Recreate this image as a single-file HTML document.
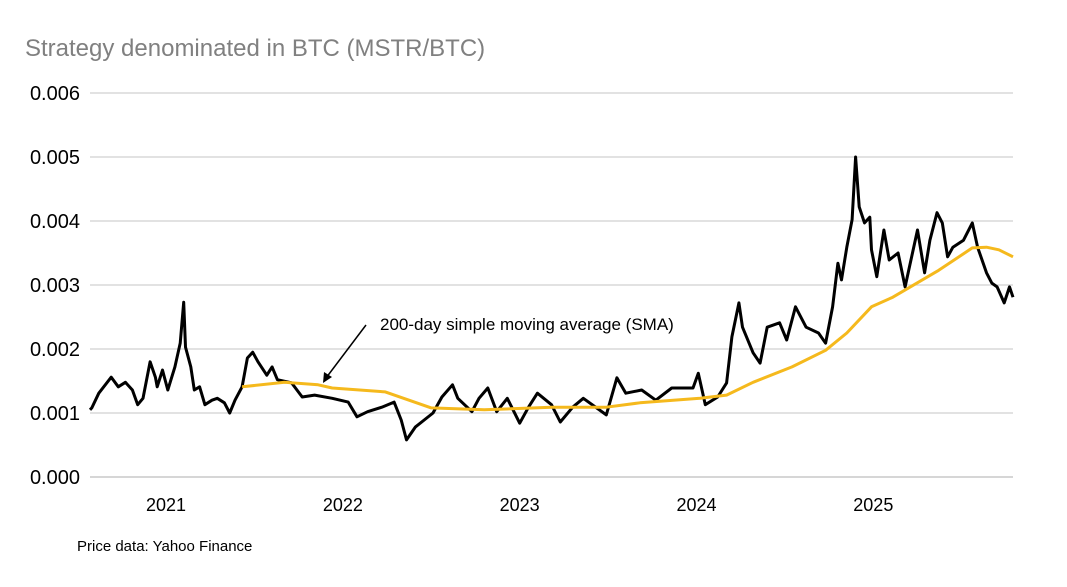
<!DOCTYPE html>
<html><head><meta charset="utf-8"><style>
body{margin:0;background:#fff;width:1067px;height:582px;overflow:hidden;font-family:"Liberation Sans",sans-serif}
</style></head><body>
<svg width="1067" height="582" font-family="Liberation Sans, sans-serif">
<text x="25" y="56" font-size="24" fill="#808080">Strategy denominated in BTC (MSTR/BTC)</text>
<g id="grid"></g><g id="yt"></g><g id="xt"></g>
<path id="price" fill="none" stroke="#000" stroke-width="3" stroke-linejoin="round"/>
<path id="sma" fill="none" stroke="#f5b91d" stroke-width="3" stroke-linejoin="round"/>
<text x="380" y="330" font-size="17" fill="#000">200-day simple moving average (SMA)</text>
<line x1="366" y1="325" x2="326" y2="378" stroke="#000" stroke-width="1.5"/>
<path d="M323,383 L324,372 L332,377 Z" fill="#000"/>
<text x="77" y="551" font-size="15" fill="#000">Price data: Yahoo Finance</text>
</svg>
<script>
const yTicks=[0,1,2,3,4,5,6];
const yLabels=["0.000","0.001","0.002","0.003","0.004","0.005","0.006"];
const years=[2021,2022,2023,2024,2025];
const priceT=[2020.57,2020.58,2020.62,2020.69,2020.73,2020.77,2020.81,2020.84,2020.87,2020.91,2020.94,2020.95,2020.98,2021.01,2021.05,2021.08,2021.10,2021.11,2021.14,2021.16,2021.19,2021.22,2021.26,2021.29,2021.33,2021.36,2021.39,2021.43,2021.46,2021.49,2021.52,2021.57,2021.60,2021.63,2021.71,2021.77,2021.84,2021.94,2022.03,2022.08,2022.14,2022.22,2022.29,2022.33,2022.36,2022.41,2022.46,2022.51,2022.56,2022.62,2022.65,2022.73,2022.77,2022.82,2022.87,2022.93,2023.00,2023.05,2023.10,2023.18,2023.23,2023.30,2023.36,2023.49,2023.55,2023.60,2023.69,2023.77,2023.86,2023.98,2024.01,2024.05,2024.12,2024.17,2024.20,2024.24,2024.26,2024.32,2024.36,2024.40,2024.47,2024.51,2024.56,2024.62,2024.69,2024.73,2024.77,2024.80,2024.82,2024.85,2024.88,2024.90,2024.92,2024.95,2024.98,2024.99,2025.02,2025.06,2025.09,2025.14,2025.18,2025.20,2025.25,2025.29,2025.32,2025.36,2025.39,2025.42,2025.45,2025.51,2025.56,2025.59,2025.64,2025.67,2025.70,2025.74,2025.77,2025.79];
const priceV=[1.05,1.08,1.31,1.56,1.41,1.48,1.36,1.13,1.23,1.80,1.56,1.41,1.67,1.36,1.72,2.09,2.73,2.03,1.72,1.36,1.41,1.13,1.20,1.23,1.16,1.00,1.20,1.41,1.86,1.95,1.80,1.59,1.72,1.52,1.47,1.25,1.28,1.23,1.17,0.94,1.02,1.09,1.17,0.89,0.58,0.78,0.89,1.00,1.25,1.44,1.23,1.02,1.23,1.39,1.02,1.23,0.84,1.09,1.31,1.13,0.86,1.09,1.23,0.97,1.55,1.31,1.36,1.20,1.39,1.39,1.62,1.13,1.25,1.47,2.19,2.72,2.34,1.94,1.78,2.34,2.41,2.14,2.66,2.34,2.25,2.09,2.66,3.34,3.08,3.59,4.02,5.00,4.22,3.97,4.06,3.55,3.13,3.86,3.39,3.50,2.97,3.23,3.86,3.19,3.70,4.13,3.97,3.44,3.59,3.70,3.97,3.59,3.19,3.03,2.97,2.72,2.97,2.81];
const smaT=[2021.43,2021.67,2021.86,2021.94,2022.24,2022.50,2022.80,2023.18,2023.49,2023.68,2024.02,2024.17,2024.32,2024.54,2024.73,2024.85,2024.99,2025.11,2025.37,2025.56,2025.64,2025.71,2025.79];
const smaV=[1.41,1.48,1.44,1.39,1.33,1.08,1.05,1.09,1.09,1.16,1.23,1.28,1.48,1.72,1.98,2.25,2.66,2.81,3.23,3.58,3.59,3.55,3.44];
const X0=90,X1=1013,T0=2020.57,T1=2025.79;
const x=t=>X0+(t-T0)/(T1-T0)*(X1-X0);
const y=v=>477-v*64;
const NS="http://www.w3.org/2000/svg";
const grid=document.getElementById('grid'),yt=document.getElementById('yt'),xt=document.getElementById('xt');
yTicks.forEach((v,i)=>{
 const l=document.createElementNS(NS,'line');
 l.setAttribute('x1',X0);l.setAttribute('x2',X1);l.setAttribute('y1',y(v));l.setAttribute('y2',y(v));
 l.setAttribute('stroke',v===0?'#bdbdbd':'#d0d0d0');l.setAttribute('stroke-width','1.2');
 
 
 grid.appendChild(l);
 const t=document.createElementNS(NS,'text');
 t.setAttribute('x',80);t.setAttribute('y',y(v)+7);t.setAttribute('text-anchor','end');t.setAttribute('font-size','20');
 t.textContent=yLabels[i];
 
 
 yt.appendChild(t);
});
years.forEach(yr=>{
 const t=document.createElementNS(NS,'text');
 t.setAttribute('x',x(yr));t.setAttribute('y',511);t.setAttribute('text-anchor','middle');t.setAttribute('font-size','18');
 t.textContent=yr;
 
 
 xt.appendChild(t);
});
document.getElementById('price').setAttribute('d',priceT.map((t,i)=>(i?'L':'M')+x(t).toFixed(1)+','+y(priceV[i]).toFixed(1)).join(''));
document.getElementById('sma').setAttribute('d',smaT.map((t,i)=>(i?'L':'M')+x(t).toFixed(1)+','+y(smaV[i]).toFixed(1)).join(''));
</script>
</body></html>
